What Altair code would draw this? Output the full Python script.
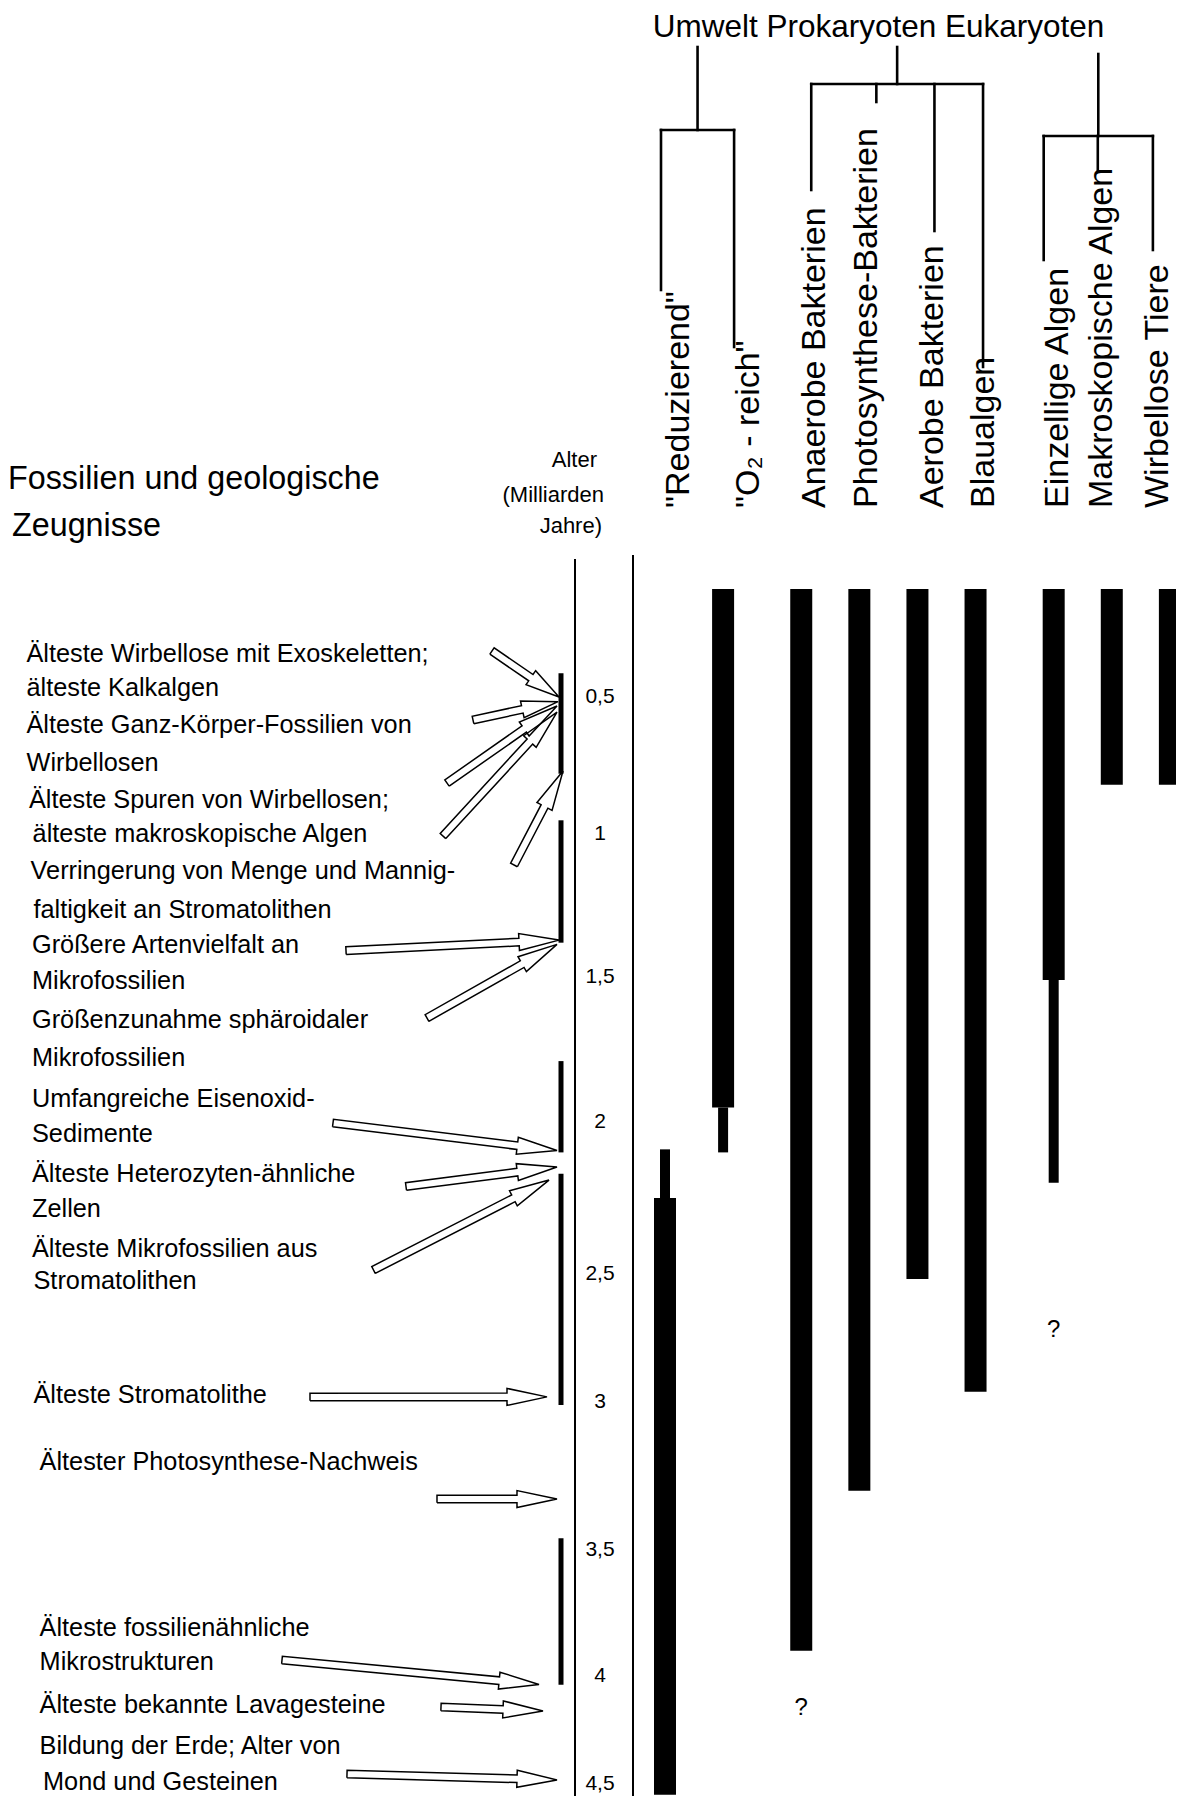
import altair as alt
import pandas as pd
import numpy as np

# ---------------- data ----------------
COLUMNS = ['"Reduzierend"', '"O₂ - reich"', 'Anaerobe Bakterien', 'Photosynthese-Bakterien',
           'Aerobe Bakterien', 'Blaualgen', 'Einzellige Algen', 'Makroskopische Algen',
           'Wirbellose Tiere']
GROUPS = ['Umwelt', 'Umwelt', 'Prokaryoten', 'Prokaryoten', 'Prokaryoten', 'Prokaryoten',
          'Eukaryoten', 'Eukaryoten', 'Eukaryoten']
GROUP_NAMES = ['Umwelt', 'Prokaryoten', 'Eukaryoten']

# main (thick) ranges, age in billions of years
THICK_FROM = [2.25, 0.0, 0.0, 0.0, 0.0, 0.0, 0.0, 0.0, 0.0]
THICK_TO = [4.55, 1.95, 3.9, 3.3, 2.52, 2.96, 1.51, 0.82, 0.82]
# uncertain (thin) extensions
THIN_COL = ['"Reduzierend"', '"O₂ - reich"', 'Einzellige Algen']
THIN_FROM = [2.09, 1.95, 1.51]
THIN_TO = [2.25, 2.10, 2.20]

QUESTION_COL = ['Einzellige Algen', 'Anaerobe Bakterien']
QUESTION_AGE = [2.72, 4.15]

AGE_TICKS = [0.5, 1.0, 1.5, 2.0, 2.5, 3.0, 3.5, 4.0, 4.5]
AGE_LABELS = ['0,5', '1', '1,5', '2', '2,5', '3', '3,5', '4', '4,5']

# black evidence ranges beside the age axis
EVIDENCE_FROM = [0.39, 0.95, 1.79, 2.17, 3.46]
EVIDENCE_TO = [0.78, 1.38, 2.10, 3.01, 4.04]

# events (arrow tips) ages
EVENT_AGE = [0.50, 0.517, 0.533, 0.555, 0.77, 1.371, 1.386, 2.094, 2.148, 2.191,
             2.98, 3.328, 4.039, 4.162, 4.481]

EVENT_LINES = [
    "Älteste Wirbellose mit Exoskeletten;",
    "älteste Kalkalgen",
    "Älteste Ganz-Körper-Fossilien von",
    "Wirbellosen",
    "Älteste Spuren von Wirbellosen;",
    "älteste makroskopische Algen",
    "Verringerung von Menge und Mannig-",
    "faltigkeit an Stromatolithen",
    "Größere Artenvielfalt an",
    "Mikrofossilien",
    "Größenzunahme sphäroidaler",
    "Mikrofossilien",
    "Umfangreiche Eisenoxid-",
    "Sedimente",
    "Älteste Heterozyten-ähnliche",
    "Zellen",
    "Älteste Mikrofossilien aus",
    "Stromatolithen",
    "Älteste Stromatolithe",
    "Ältester Photosynthese-Nachweis",
    "Älteste fossilienähnliche",
    "Mikrostrukturen",
    "Älteste bekannte Lavagesteine",
    "Bildung der Erde; Alter von",
    "Mond und Gesteinen",
]

TITLE = "Umwelt Prokaryoten Eukaryoten"
HEADER = ["Fossilien und geologische", "Zeugnisse"]
AGE_TITLE = ["Alter", "(Milliarden", "Jahre)"]

# ---------------- layout (image pixel coordinates) ----------------
W, H = 1168, 1788
FONT = "Liberation Sans, Arial, Helvetica, sans-serif"
AGE_DOMAIN = [0, 0.5, 1, 1.5, 2, 2.5, 3, 3.5, 4, 4.5, 4.6]
AGE_PX = [589, 697, 834, 977, 1122, 1274, 1402, 1550, 1676, 1784, 1805.6]
GROUP_GAP = 0.345
COL_X0, COL_STEP = 665, 58.1
LABEL_DX = [14, 26, 14, 8, 16, 8.5, 4, -10, -12]       # px offsets of rotated labels
BRANCH_DX = [-4, 11, 10, 17, 17, 7.5, -10, -14, -17]  # px offsets of tree branches

LINE_X = [26.5, 26.5, 26.5, 26.5, 29, 32.6, 30.6, 33.5, 32, 32, 32, 32, 32, 32, 32, 32, 32,
          33.5, 33.5, 39.6, 39.6, 39.6, 39.6, 39.6, 43]
LINE_Y = [661.6, 696, 733, 771, 808, 842, 879, 918, 952.6, 989, 1028, 1066, 1107, 1141.6,
          1182, 1217, 1256.7, 1289, 1403, 1470, 1635.5, 1670, 1713, 1754, 1789.5]

ARROW_TAIL_X = [492, 473, 447, 443, 514, 346, 427, 333, 406, 373.5, 310, 437, 282, 441, 347]
ARROW_TAIL_Y = [651, 720, 783, 836, 865, 950.6, 1018, 1123, 1186.5, 1270, 1397, 1499, 1660, 1707, 1774]
ARROW_TIP_X = [559, 558, 557, 557, 563, 559, 557, 557, 557, 549, 547, 557, 539, 543, 557]
SHAFT_HW, HEAD_HW, HEAD_LEN = 3.8, 8.5, 40

DROP_END = [290, 347, 190, 102, 231, 367, 260, 170, 250]
BRACKET_Y = {'Umwelt': 130, 'Prokaryoten': 84, 'Eukaryoten': 136}
STEM_TOP = {'Umwelt': 47, 'Prokaryoten': 47, 'Eukaryoten': 54}

AGE_TITLE_RIGHT = [597, 604, 602]
AGE_TITLE_BASE = [467, 502, 533]

# ---------------- scales ----------------
slots = [i + GROUP_GAP * GROUP_NAMES.index(g) for i, g in enumerate(GROUPS)]
slot_of = dict(zip(COLUMNS, slots))
SLOT_MAX = max(slots)

col_scale = alt.Scale(domain=[0, SLOT_MAX], range=[COL_X0 - 8, COL_X0 - 8 + COL_STEP * SLOT_MAX],
                      nice=False, zero=False)
age_scale = alt.Scale(domain=AGE_DOMAIN, range=[p - 8 for p in AGE_PX], nice=False, zero=False)
pxx_scale = alt.Scale(domain=[8, 8 + W], range=[0, W], nice=False, zero=False)
pxy_scale = alt.Scale(domain=[8, 8 + H], range=[0, H], nice=False, zero=False)


def XC(f):
    return alt.X(f, type='quantitative', scale=col_scale, axis=None)


def YA(f):
    return alt.Y(f, type='quantitative', scale=age_scale, axis=None)


def XP(f):
    return alt.X(f, type='quantitative', scale=pxx_scale, axis=None)


def YP(f):
    return alt.Y(f, type='quantitative', scale=pxy_scale, axis=None)


# ---------------- tables ----------------
bars = pd.DataFrame({'col': COLUMNS, 'slot': slots, 'a0': THICK_FROM, 'a1': THICK_TO})
thin = pd.DataFrame({'col': THIN_COL, 'slot': [slot_of[c] for c in THIN_COL],
                     'a0': THIN_FROM, 'a1': THIN_TO})
quest = pd.DataFrame({'slot': [slot_of[c] for c in QUESTION_COL], 'age': QUESTION_AGE, 't': '?'})
ticks = pd.DataFrame({'age': AGE_TICKS, 't': AGE_LABELS})
evid = pd.DataFrame({'a0': EVIDENCE_FROM, 'a1': EVIDENCE_TO})
labels = pd.DataFrame({'t': COLUMNS, 'slot': [s + d / COL_STEP for s, d in zip(slots, LABEL_DX)]})
lines_df = pd.DataFrame({'t': EVENT_LINES, 'px': LINE_X, 'py': LINE_Y})
age_title = pd.DataFrame({'t': AGE_TITLE, 'px': AGE_TITLE_RIGHT, 'py': AGE_TITLE_BASE})

# tree segments
branch = [s + d / COL_STEP for s, d in zip(slots, BRANCH_DX)]
seg = []
for g in GROUP_NAMES:
    idx = [i for i, gg in enumerate(GROUPS) if gg == g]
    s0, s1 = branch[idx[0]], branch[idx[-1]]
    mid = (s0 + s1) / 2
    by = BRACKET_Y[g]
    seg.append(dict(x1=s0, x2=s1, y1=by, y2=by))
    seg.append(dict(x1=mid, x2=mid, y1=STEM_TOP[g], y2=by))
    for i in idx:
        seg.append(dict(x1=branch[i], x2=branch[i], y1=by, y2=DROP_END[i]))
tree = pd.DataFrame(seg)

# arrows (outlined)
rows = []
for k, (tx, ty, ptx, age) in enumerate(zip(ARROW_TAIL_X, ARROW_TAIL_Y, ARROW_TIP_X, EVENT_AGE)):
    P = np.array([ptx, np.interp(age, AGE_DOMAIN, AGE_PX)])
    T = np.array([tx, ty])
    d = P - T
    L = np.hypot(*d)
    u = d / L
    n = np.array([-u[1], u[0]])
    hl = min(HEAD_LEN, 0.42 * L)
    B = P - u * hl
    pts = [T + n * SHAFT_HW, B + n * SHAFT_HW, B + n * HEAD_HW, P, B - n * HEAD_HW,
           B - n * SHAFT_HW, T - n * SHAFT_HW, T + n * SHAFT_HW]
    for j, p in enumerate(pts):
        rows.append(dict(arrow=k, v=j, px=float(p[0]), py=float(p[1])))
arrows = pd.DataFrame(rows)

# ---------------- layers ----------------
layers = []

layers.append(alt.Chart(bars).mark_rule(color='black', strokeWidth=22, strokeCap='butt').encode(
    x=XC('slot'), y=YA('a0'), y2='a1'))
layers.append(alt.Chart(thin).mark_rule(color='black', strokeWidth=10, strokeCap='butt').encode(
    x=XC('slot'), y=YA('a0'), y2='a1'))
layers.append(alt.Chart(quest).mark_text(font=FONT, fontSize=24, baseline='middle', color='black').encode(
    x=XC('slot'), y=YA('age'), text='t:N'))
layers.append(alt.Chart(ticks).mark_text(font=FONT, fontSize=21, baseline='middle', align='center',
                                         color='black').encode(
    x=alt.value(600 - 8), y=YA('age'), text='t:N'))
layers.append(alt.Chart(evid).mark_rule(color='black', strokeWidth=5, strokeCap='butt').encode(
    x=alt.value(561 - 8), y=YA('a0'), y2='a1'))

# axis lines
layers.append(alt.Chart(pd.DataFrame({'a': [0]})).mark_rule(color='black', strokeWidth=2).encode(
    x=alt.value(575 - 8), y=alt.value(559 - 8), y2=alt.value(H)))
layers.append(alt.Chart(pd.DataFrame({'a': [0]})).mark_rule(color='black', strokeWidth=2).encode(
    x=alt.value(633 - 8), y=alt.value(555 - 8), y2=alt.value(H)))

# tree
layers.append(alt.Chart(tree).mark_rule(color='black', strokeWidth=2.6, strokeCap='square').encode(
    x=XC('x1'), x2='x2', y=YP('y1'), y2='y2'))

# column labels (rotated)
layers.append(alt.Chart(labels).mark_text(font=FONT, fontSize=34, angle=270, align='left',
                                          baseline='middle', color='black').encode(
    x=XC('slot'), y=alt.value(508 - 8), text='t:N'))

# title
layers.append(alt.Chart(pd.DataFrame({'t': [TITLE]})).mark_text(
    font=FONT, fontSize=31.5, align='center', baseline='alphabetic', color='black').encode(
    x=alt.value(878.5 - 8), y=alt.value(37 - 8), text='t:N'))

# left header
layers.append(alt.Chart(pd.DataFrame({'t': [HEADER[0]]})).mark_text(
    font=FONT, fontSize=32.3, align='left', baseline='alphabetic', color='black').encode(
    x=alt.value(8 - 8), y=alt.value(489 - 8), text='t:N'))
layers.append(alt.Chart(pd.DataFrame({'t': [HEADER[1]]})).mark_text(
    font=FONT, fontSize=32.3, align='left', baseline='alphabetic', color='black').encode(
    x=alt.value(12 - 8), y=alt.value(536 - 8), text='t:N'))

# age title
layers.append(alt.Chart(age_title).mark_text(
    font=FONT, fontSize=22, align='right', baseline='alphabetic', color='black').encode(
    x=XP('px'), y=YP('py'), text='t:N'))

# event texts
layers.append(alt.Chart(lines_df).mark_text(font=FONT, fontSize=25.3, align='left',
                                            baseline='alphabetic', color='black').encode(
    x=XP('px'), y=YP('py'), text='t:N'))

# arrows
layers.append(alt.Chart(arrows).mark_line(color='black', strokeWidth=1.5, strokeJoin='miter').encode(
    x=XP('px'), y=YP('py'), detail='arrow:N', order='v:Q'))

chart = alt.layer(*layers).resolve_scale(x='independent', y='independent').properties(
    width=W, height=H, padding=0, autosize='none', background='white'
).configure_view(stroke=None)

chart.save("out.html", embed_options={"renderer": "svg", "actions": False})
